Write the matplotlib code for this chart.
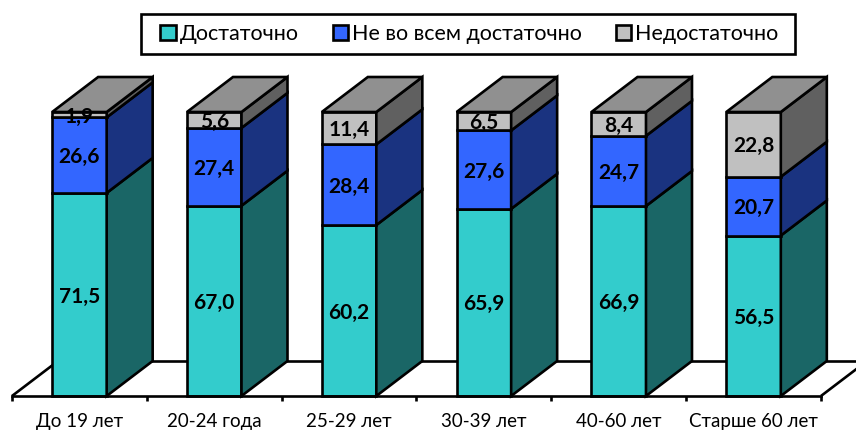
import matplotlib
matplotlib.use("Agg")
import matplotlib.pyplot as plt
from matplotlib.patches import Polygon, Patch, Rectangle

categories = ["До 19 лет", "20-24 года", "25-29 лет", "30-39 лет", "40-60 лет", "Старше 60 лет"]
series_names = ["Достаточно", "Не во всем достаточно", "Недостаточно"]
enough = [71.5, 67.0, 60.2, 65.9, 66.9, 56.5]
partly = [26.6, 27.4, 28.4, 27.6, 24.7, 20.7]
lacking = [1.9, 5.6, 11.4, 6.5, 8.4, 22.8]

front_colors = ["#33CCCC", "#3366FF", "#C0C0C0"]
side_colors = ["#1A6666", "#1A3380", "#606060"]
top_color = "#909090"

W, H = 856, 430
CAT_PX = 134.83
UNIT_PX = 2.84
LEFT_PX, BASE_PX = 12, 396
LINE = 1.9
FONTS = ["Lato", "Noto Sans", "DejaVu Sans"]

fig = plt.figure(figsize=(W / 100, H / 100), dpi=100, facecolor="white")
ax = fig.add_axes([0, 0, 1, 1])
ax.set_xlim(-LEFT_PX / CAT_PX, (W - LEFT_PX) / CAT_PX)
ax.set_ylim(-(H - BASE_PX) / UNIT_PX, BASE_PX / UNIT_PX)

# Oblique depth of the pseudo-3D projection, in axis units
depth_x = 46 / CAT_PX
depth_y = 35 / UNIT_PX
bar_w = 54.5 / CAT_PX


def add_poly(points, color, z):
    ax.add_patch(Polygon(points, closed=True, facecolor=color, edgecolor="black",
                         linewidth=LINE, joinstyle="miter", zorder=z))


# Floor of the plot: side edges and back edge
n = len(categories)
floor_style = dict(color="black", linewidth=LINE, zorder=1, solid_capstyle="butt")
ax.plot([0, depth_x], [0, depth_y], **floor_style)
ax.plot([n, n + depth_x], [0, depth_y], **floor_style)
ax.plot([depth_x, n + depth_x], [depth_y, depth_y], **floor_style)

for i in range(n):
    x0 = i + 0.5 - bar_w / 2
    x1 = x0 + bar_w
    bottom = 0.0
    stack = [enough[i], partly[i], lacking[i]]
    for k, value in enumerate(stack):
        top = bottom + value
        add_poly([(x0, bottom), (x1, bottom), (x1, top), (x0, top)], front_colors[k], 3)
        add_poly([(x1, bottom), (x1 + depth_x, bottom + depth_y),
                  (x1 + depth_x, top + depth_y), (x1, top)], side_colors[k], 3)
        bottom = top
    add_poly([(x0, bottom), (x1, bottom), (x1 + depth_x, bottom + depth_y),
              (x0 + depth_x, bottom + depth_y)], top_color, 3)
    # Value labels sit above every bar face
    running = 0.0
    for value in stack:
        ax.text(i + 0.5, running + value / 2, f"{value:.1f}".replace(".", ","),
                ha="center", va="center_baseline", fontsize=15, fontweight="bold",
                family=FONTS, color="black", zorder=6)
        running += value

# Category axis: boundary ticks, labels centred between them
for name, spine in ax.spines.items():
    spine.set_visible(name == "bottom")
ax.spines["bottom"].set_position(("data", 0))
ax.spines["bottom"].set_bounds(0, n)
ax.spines["bottom"].set_linewidth(LINE)
ax.spines["bottom"].set_zorder(5)
ax.set_yticks([])
ax.set_xticks(range(n + 1))
ax.set_xticklabels([])
ax.tick_params(axis="x", which="major", length=3.5, width=LINE, direction="out")
ax.set_xticks([i + 0.5 for i in range(n)], minor=True)
ax.set_xticklabels(categories, minor=True, family=FONTS, fontsize=13.5)
ax.tick_params(axis="x", which="minor", length=0, pad=12)
ax.patch.set_alpha(0)

# Legend frame spans a fixed strip above the bars
fig.add_artist(Rectangle((141 / W, 1 - 54 / H), 654 / W, 40 / H, transform=fig.transFigure,
                         facecolor="white", edgecolor="black", linewidth=LINE))
handles = [Patch(facecolor=c, edgecolor="black", linewidth=LINE) for c in front_colors]
leg = fig.legend(handles, series_names, ncol=3, loc="center",
                 bbox_to_anchor=(469.5 / W, 1 - 34 / H), prop={"family": FONTS, "size": 15.5},
                 frameon=False, handlelength=0.72, handleheight=0.72, handletextpad=0.2,
                 columnspacing=1.55, borderpad=0, borderaxespad=0)

fig.savefig("out.png", dpi=100, facecolor="white")
